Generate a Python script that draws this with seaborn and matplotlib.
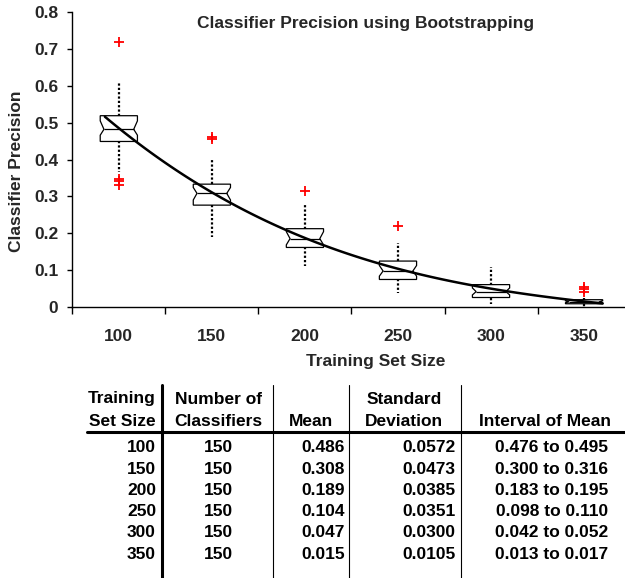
import numpy as np
import pandas as pd
import matplotlib
matplotlib.use("Agg")
import matplotlib.pyplot as plt
from matplotlib.lines import Line2D
from matplotlib.ticker import FuncFormatter
import seaborn as sns

# ---------------- data ----------------
sizes = ["100", "150", "200", "250", "300", "350"]
whisker_low = [0.365, 0.190, 0.111, 0.038, 0.007, 0.000]
q1 = [0.449, 0.276, 0.161, 0.074, 0.025, 0.008]
notch_low = [0.466, 0.290, 0.168, 0.083, 0.032, 0.011]
median = [0.482, 0.308, 0.185, 0.097, 0.041, 0.013]
notch_high = [0.505, 0.324, 0.204, 0.112, 0.051, 0.016]
q3 = [0.519, 0.333, 0.212, 0.124, 0.060, 0.019]
whisker_high = [0.611, 0.401, 0.279, 0.172, 0.107, 0.025]
outliers = [[0.718, 0.347, 0.341, 0.331], [0.460, 0.455], [0.314], [0.220], [],
            [0.053, 0.047, 0.041]]

n_classifiers = ["150", "150", "150", "150", "150", "150"]
means = [0.486, 0.308, 0.189, 0.104, 0.047, 0.015]
std_devs = ["0.0572", "0.0473", "0.0385", "0.0351", "0.0300", "0.0105"]
interval_low = ["0.476", "0.300", "0.183", "0.098", "0.042", "0.013"]
interval_high = ["0.495", "0.316", "0.195", "0.110", "0.052", "0.017"]

title = "Classifier Precision using Bootstrapping"
xlabel = "Training Set Size"
ylabel = "Classifier Precision"
yticks = [0.0, 0.1, 0.2, 0.3, 0.4, 0.5, 0.6, 0.7, 0.8]

# ---------------- style ----------------
sns.set_theme(style="white")
plt.rcParams["font.family"] = ["Liberation Sans", "DejaVu Sans"]
plt.rcParams["font.weight"] = "bold"
FS = 12.5

W, H = 625, 578
fig = plt.figure(figsize=(W / 100, H / 100), dpi=100)
fig.patch.set_facecolor("white")

ax_left, ax_right, ax_top, ax_bot = 72.3, 630.6, 12.3, 306.7
ax = fig.add_axes([ax_left / W, 1 - ax_bot / H, (ax_right - ax_left) / W, (ax_bot - ax_top) / H])
ax.set_facecolor("white")

positions = np.arange(len(sizes))
stats = []
for i in range(len(sizes)):
    stats.append(dict(label=sizes[i], whislo=whisker_low[i], q1=q1[i], med=median[i],
                      q3=q3[i], whishi=whisker_high[i], cilo=notch_low[i],
                      cihi=notch_high[i], fliers=np.array(outliers[i])))

box_w = 0.4
art = ax.bxp(stats, positions=positions, widths=box_w, shownotches=True, showcaps=False,
             patch_artist=True,
             boxprops=dict(facecolor="white", edgecolor="black", linewidth=0.9),
             whiskerprops=dict(color="black", linewidth=1.6, linestyle=(0, (1, 0.95))),
             medianprops=dict(color="black", linewidth=0.9),
             flierprops=dict(marker="+", markeredgecolor="red", markerfacecolor="red",
                             markersize=7, markeredgewidth=1.3, linestyle="none"))

indent = 0.04
for i, (box, med) in enumerate(zip(art["boxes"], art["medians"])):
    verts = box.get_path().vertices
    verts[3, 0] = positions[i] + box_w / 2 - indent
    verts[8, 0] = positions[i] - box_w / 2 + indent
    med.set_xdata([positions[i] - box_w / 2 + indent, positions[i] + box_w / 2 - indent])

# polynomial trend line of the means
df = pd.DataFrame({"pos": positions, "mean": means})
ax.set_xlim(-0.15, 5.2)
sns.regplot(data=df, x="pos", y="mean", order=3, ci=None, scatter=False, truncate=False,
            ax=ax, line_kws=dict(color="black", linewidth=1.8, zorder=5))

ax.set_xlim(-0.5, 5.5)
ax.set_ylim(0, 0.8)

# axes, ticks
for s in ["top", "right"]:
    ax.spines[s].set_visible(False)
for s in ["left", "bottom"]:
    ax.spines[s].set_color("black")
    ax.spines[s].set_linewidth(1.0)

ax.set_yticks(yticks)
ax.yaxis.set_major_formatter(FuncFormatter(lambda v, _: "0" if v == 0 else f"{v:.1f}"))
ax.tick_params(axis="y", which="major", direction="out", length=3.6, width=1.0,
               color="black", pad=6.5, labelsize=FS, left=True)
ax.set_xticks(positions)
ax.set_xticklabels(sizes)
ax.set_xticks(np.arange(-0.5, 6.0, 1.0), minor=True)
ax.tick_params(axis="x", which="major", length=0, pad=16, labelsize=FS, bottom=True)
ax.tick_params(axis="x", which="minor", direction="out", length=5, width=1.0,
               color="black", bottom=True)
for lab in ax.get_xticklabels() + ax.get_yticklabels():
    lab.set_fontweight("bold")

ax.set_xlabel(xlabel, fontsize=FS, fontweight="bold")
ax.xaxis.label.set_va("center")
ax.xaxis.set_label_coords((376 - ax_left) / (ax_right - ax_left),
                          (ax_bot - 361.7) / (ax_bot - ax_top))
ax.set_ylabel(ylabel, fontsize=FS, fontweight="bold")
ax.yaxis.label.set_va("center")
ax.yaxis.set_label_coords((16.7 - ax_left) / (ax_right - ax_left),
                          (ax_bot - 171) / (ax_bot - ax_top))
ax.text((366 - ax_left) / (ax_right - ax_left), (ax_bot - 23.3) / (ax_bot - ax_top), title,
        transform=ax.transAxes, ha="center", va="center", fontsize=FS, fontweight="bold")
ax.grid(False)

# ---------------- table ----------------
def fx(x):
    return x / W


def fy(y):
    return 1 - y / H


def ftext(x, y, s, ha):
    fig.text(fx(x), fy(y), s, ha=ha, va="center", fontsize=FS, fontweight="bold",
             color="black")


h1, h2 = 399, 421
ftext(156, h1, "Training", "right")
ftext(156, h2, "Set Size", "right")
ftext(218.5, h1, "Number of", "center")
ftext(218.5, h2, "Classifiers", "center")
ftext(311, h2, "Mean", "center")
ftext(404, h1, "Standard", "center")
ftext(404, h2, "Deviation", "center")
ftext(545, h2, "Interval of Mean", "center")

row0, pitch = 447.7, 21.3
for k in range(len(sizes)):
    y = row0 + k * pitch
    ftext(156, y, sizes[k], "right")
    ftext(218.5, y, n_classifiers[k], "center")
    ftext(345, y, f"{means[k]:.3f}", "right")
    ftext(455.7, y, std_devs[k], "right")
    ftext(608, y, f"{interval_low[k]} to {interval_high[k]}", "right")

fig.add_artist(Line2D([fx(86.7), fx(625)], [fy(431.7), fy(431.7)], color="black", lw=2.2,
                      transform=fig.transFigure))
fig.add_artist(Line2D([fx(161.7), fx(161.7)], [fy(385), fy(578)], color="black", lw=2.2,
                      transform=fig.transFigure))
for xv in [273.3, 349.3, 461]:
    fig.add_artist(Line2D([fx(xv), fx(xv)], [fy(385), fy(578)], color="black", lw=0.8,
                          transform=fig.transFigure))

fig.savefig("out.png", dpi=100, facecolor="white")
